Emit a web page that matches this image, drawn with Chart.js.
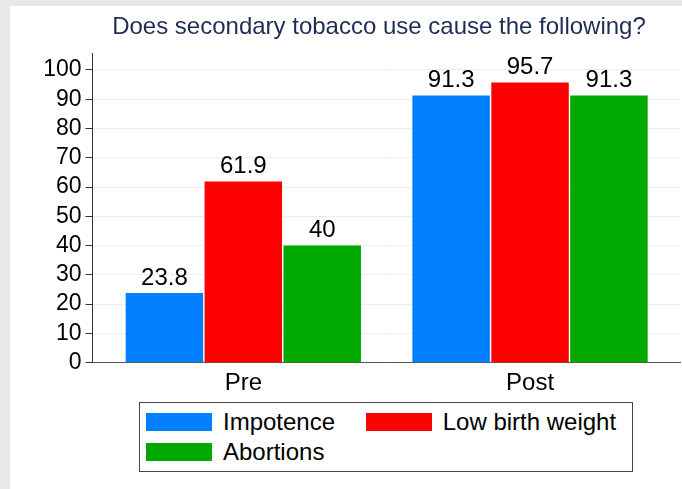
<!DOCTYPE html>
<html>
<head>
<meta charset="utf-8">
<script src="https://cdn.jsdelivr.net/npm/chart.js@4.4.0/dist/chart.umd.min.js"></script>
<style>
    html, body { margin: 0; padding: 0; }
    body {
        width: 682px; height: 489px; overflow: hidden; position: relative;
        background: #e8e8e6;
        font-family: "Liberation Sans", Arial, sans-serif;
    }
    #panel { position: absolute; left: 10px; top: 6px; right: 0; bottom: 0; background: #fff; }
    #chartWrap { position: absolute; left: 0; top: 0; width: 682px; height: 489px; }
    #title {
        position: absolute; left: 79px; width: 600px; top: 14px;
        font-size: 24px; line-height: 24px; color: #1f2d55;
        text-align: center; white-space: nowrap;
    }
    #legend {
        position: absolute; left: 139px; top: 402px; width: 494px; height: 70px;
        box-sizing: border-box; border: 1px solid #444; background: #fff;
        display: grid; grid-template-columns: 219.7px auto; grid-auto-rows: 30.6px;
        padding: 3.5px 0 0 6px;
    }
    .legendItem { display: flex; align-items: center; font-size: 24px; color: #000; white-space: nowrap; }
    .swatch { width: 66px; height: 18px; margin-right: 11px; flex: none; }
</style>
</head>
<body>
<div id="panel"></div>
<div id="chartWrap"><canvas id="chart"></canvas></div>
<div id="title">Does secondary tobacco use cause the following?</div>
<div id="legend"></div>
<script>
const categories = ['Pre', 'Post'];
const seriesNames = ['Impotence', 'Low birth weight', 'Abortions'];
const impotence = [23.8, 91.3];
const lowBirthWeight = [61.9, 95.7];
const abortions = [40, 91.3];
const yTicks = [0, 10, 20, 30, 40, 50, 60, 70, 80, 90, 100];

const fontFamily = '"Liberation Sans", Arial, sans-serif';
Chart.defaults.font.family = fontFamily;
Chart.defaults.color = '#000';

const colors = ['#0080ff', '#ff0000', '#00a800'];
const series = [impotence, lowBirthWeight, abortions];

// values printed above each bar
const valueLabels = {
    id: 'valueLabels',
    afterDatasetsDraw(chart) {
        const { ctx } = chart;
        ctx.save();
        ctx.font = `24px ${fontFamily}`;
        ctx.fillStyle = '#000';
        ctx.textAlign = 'center';
        ctx.textBaseline = 'alphabetic';
        series.forEach((values, i) => {
            chart.getDatasetMeta(i).data.forEach((bar, j) => {
                ctx.fillText(String(values[j]), bar.x, bar.y - 8.5);
            });
        });
        ctx.restore();
    }
};

// x is a numeric index scale so the two groups sit where Stata put them
const datasets = series.map((values, i) => ({
    label: seriesNames[i],
    data: values.map((v, j) => ({ x: j, y: v })),
    backgroundColor: colors[i],
    borderWidth: 0,
    categoryPercentage: 0.8256,
    barPercentage: 0.982
}));

const chart = new Chart(document.getElementById('chart'), {
    type: 'bar',
    data: { datasets },
    plugins: [valueLabels],
    options: {
        responsive: true,
        maintainAspectRatio: false,
        animation: false,
        layout: { padding: { top: 53, right: 2, left: 0, bottom: 0 } },
        plugins: {
            legend: { display: false },
            tooltip: { enabled: false }
        },
        scales: {
            x: {
                type: 'linear',
                offset: false,
                min: -0.526,
                max: 1.523,
                afterBuildTicks: s => { s.ticks = categories.map((c, i) => ({ value: i })); },
                grid: { display: false, drawTicks: false },
                border: { color: '#555', width: 1 },
                ticks: {
                    font: { size: 24 },
                    color: '#000',
                    padding: 6,
                    callback: v => categories[v]
                },
                afterFit: s => { s.height = 126.3; }
            },
            y: {
                min: 0,
                max: 105.8,
                afterBuildTicks: s => { s.ticks = yTicks.map(v => ({ value: v })); },
                grid: { color: '#e8eff1', tickColor: '#333', tickLength: 7, drawTicks: true },
                border: { color: '#333', width: 1 },
                ticks: { font: { size: 23 }, color: '#000', padding: 4 },
                afterFit: s => { s.width = 92.5; }
            }
        }
    }
});

// two-column legend box like the original
window.legend.innerHTML = chart.data.datasets.map(ds => `
    <div class="legendItem"><span class="swatch" style="background:${ds.backgroundColor}"></span>${ds.label}</div>
`).join('');
</script>
</body>
</html>
